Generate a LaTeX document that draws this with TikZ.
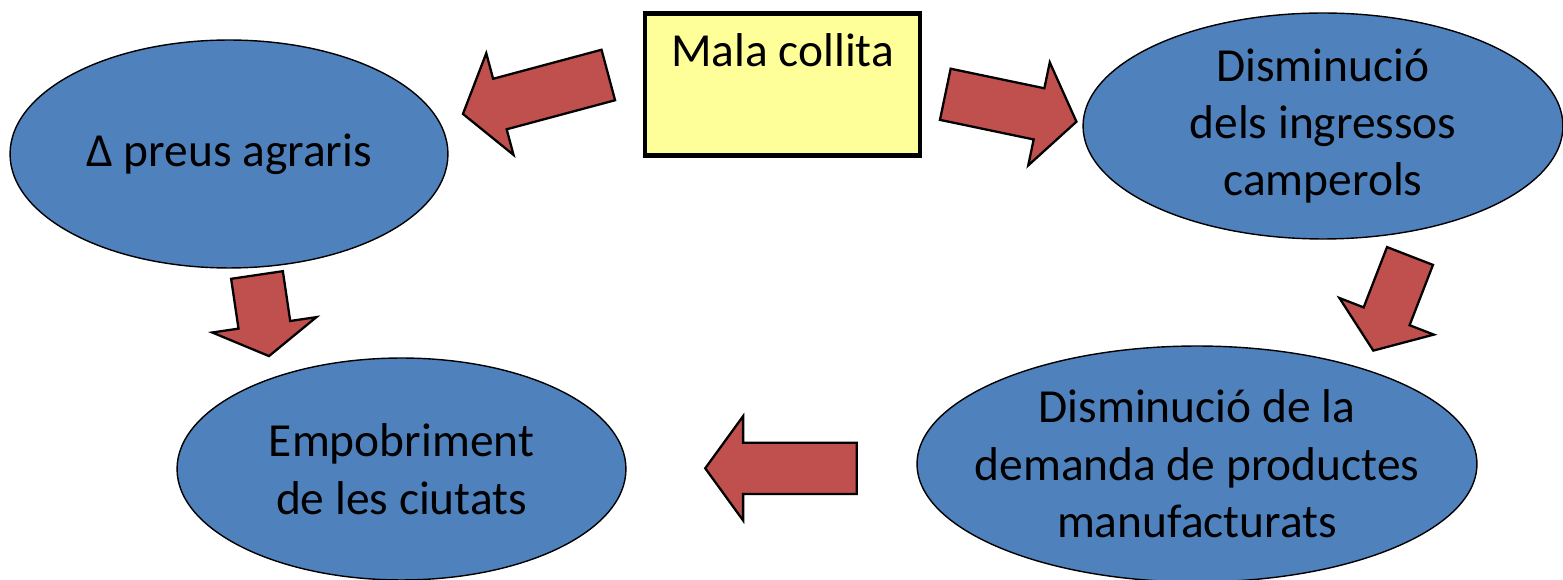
\documentclass[tikz,border=0pt]{standalone}
\usepackage{fontspec}
\setmainfont{Carlito}
\usetikzlibrary{shapes.geometric,shapes.arrows}
\pgfdeclarelayer{edgelayer}
\pgfdeclarelayer{nodelayer}
\pgfsetlayers{edgelayer,nodelayer,main}
\definecolor{ellblue}{HTML}{4F81BD}
\definecolor{arrred}{HTML}{C0504D}
\definecolor{boxyellow}{HTML}{FFFF99}
\tikzstyle{bubble}=[ellipse, fill=ellblue, draw=black, line width=0.8pt, inner sep=0pt, align=center, font=\fontsize{27}{32.7}\selectfont]
\tikzstyle{collita}=[rectangle, fill=boxyellow, draw=black, line width=2.6pt, inner sep=0pt, font=\fontsize{27}{32.7}\selectfont]
\tikzstyle{blockarrow}=[single arrow, fill=arrred, draw=black, line width=1.3pt, inner xsep=0pt, inner ysep=0.5cm, outer sep=0pt, single arrow head extend=0.53cm, single arrow tip angle=108, anchor=tail]

\begin{document}
\begin{tikzpicture}[x=0.02cm, y=-0.02cm]
				\useasboundingbox (0, 0) rectangle (1563, 580);
				\begin{pgfonlayer}{nodelayer}
					\node [style=collita, minimum width=5.5cm, text height=1.06cm, text depth=1.78cm, anchor=north] (mala) at (782.5, 11) {Mala collita};
					\node [style=bubble, minimum width=8.76cm, minimum height=4.56cm] (preus) at (229, 154) {Δ preus agraris};
					\node [style=bubble, minimum width=9.6cm, minimum height=4.52cm] (ingressos) at (1323, 126) {Disminució\\dels ingressos\\camperols};
					\node [style=bubble, minimum width=11.2cm, minimum height=4.72cm, inner xsep=-0.5cm] (demanda) at (1197, 464) {Disminució de la\\demanda de productes\\manufacturats};
					\node [style=bubble, minimum width=8.98cm, minimum height=4.44cm] (ciutats) at (401.5, 469) {Empobriment\\de les ciutats};
				\end{pgfonlayer}
				\begin{pgfonlayer}{edgelayer}
					\node [style=blockarrow, rotate=195, minimum height=3.01cm] (a1) at (608.3, 75) {};
					\node [style=blockarrow, rotate=-11.8, minimum height=2.68cm] (a2) at (945.3, 94.3) {};
					\node [style=blockarrow, rotate=-81.6, minimum height=1.64cm, single arrow tip angle=118] (a3) at (257, 275) {};
					\node [style=blockarrow, rotate=-111.2, minimum height=2.03cm, inner ysep=0.47cm, single arrow head extend=0.52cm] (a4) at (1410, 256) {};
					\node [style=blockarrow, rotate=180, minimum height=3.03cm, inner ysep=0.49cm] (a5) at (856.7, 468.3) {};
				\end{pgfonlayer}
			\end{tikzpicture}
\end{document}
